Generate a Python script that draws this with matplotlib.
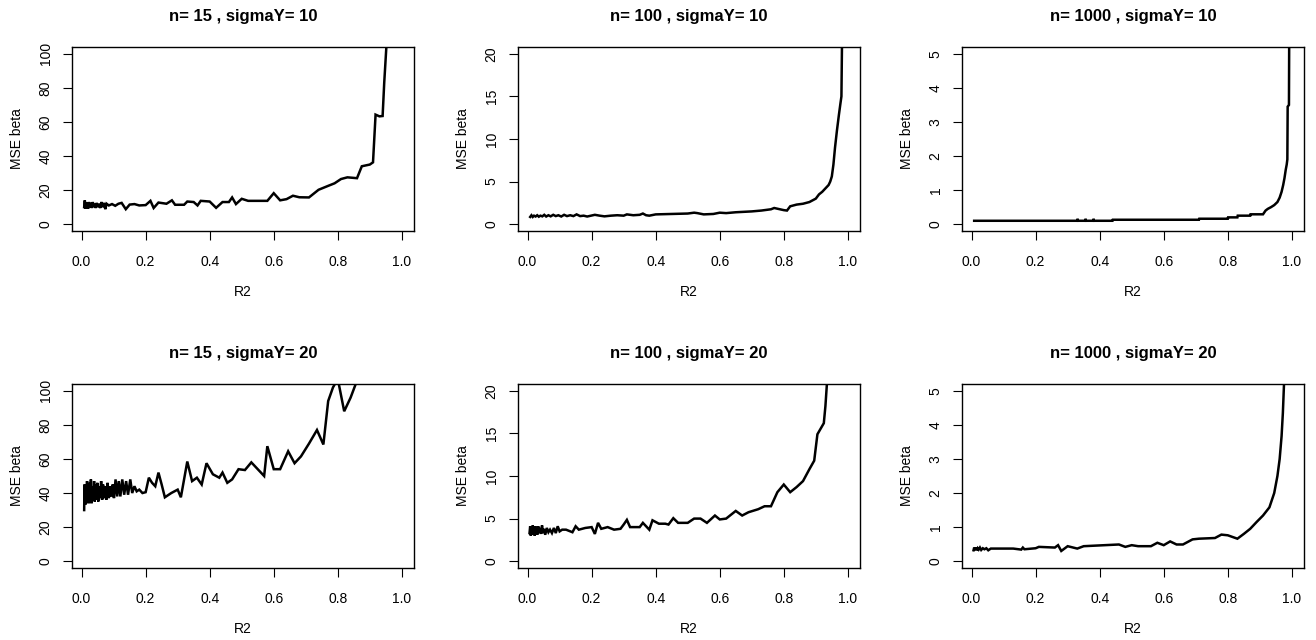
from __future__ import annotations

import matplotlib

matplotlib.use("Agg")

import matplotlib.pyplot as plt

plt.rcParams["font.family"] = ["Liberation Sans", "DejaVu Sans"]

# n = 15, sigmaY = 10
R2_N15_S10 = [
    0.008, 0.010, 0.012, 0.014, 0.016, 0.018, 0.020, 0.023, 0.026, 0.029,
    0.032, 0.035, 0.038, 0.041, 0.044, 0.047, 0.050, 0.054, 0.058, 0.062,
    0.066, 0.070, 0.074, 0.078, 0.085, 0.095, 0.105, 0.115, 0.125, 0.138,
    0.150, 0.165, 0.180, 0.200, 0.215, 0.225, 0.240, 0.265, 0.282, 0.292,
    0.320, 0.330, 0.350, 0.362, 0.372, 0.400, 0.420, 0.440, 0.460, 0.470,
    0.482, 0.500, 0.520, 0.580, 0.600, 0.620, 0.640, 0.660, 0.680, 0.710,
    0.740, 0.770, 0.790, 0.810, 0.830, 0.860, 0.875, 0.900, 0.910, 0.918,
    0.930, 0.940, 0.945, 0.952, 0.958,
]
MSE_N15_S10 = [
    10.0, 14.0, 9.0, 13.0, 9.5, 12.5, 9.0, 13.0, 10.0, 12.5,
    9.5, 13.0, 10.0, 12.0, 9.5, 12.5, 10.0, 12.0, 9.5, 13.0,
    10.0, 12.5, 8.8, 12.0, 11.0, 11.8, 10.8, 12.0, 12.5, 8.8,
    11.5, 11.8, 11.0, 11.2, 13.7, 9.5, 12.7, 12.0, 14.0, 11.4,
    11.4, 13.3, 13.0, 11.0, 13.7, 13.3, 9.6, 13.0, 13.0, 15.7,
    11.8, 14.9, 13.7, 13.7, 18.2, 14.0, 14.7, 16.7, 15.8, 15.7,
    20.2, 22.5, 24.0, 26.5, 27.5, 27.0, 34.0, 35.0, 36.3, 64.3,
    63.3, 63.5, 83.0, 105.0, 140.0,
]

# n = 100, sigmaY = 10
R2_N100_S10 = [
    0.008, 0.012, 0.016, 0.020, 0.025, 0.030, 0.035, 0.040, 0.046, 0.052,
    0.058, 0.065, 0.072, 0.080, 0.088, 0.096, 0.105, 0.114, 0.123, 0.133,
    0.143, 0.153, 0.164, 0.175, 0.186, 0.198, 0.210, 0.225, 0.240, 0.260,
    0.280, 0.300, 0.310, 0.330, 0.350, 0.360, 0.370, 0.380, 0.400, 0.450,
    0.500, 0.520, 0.530, 0.550, 0.580, 0.600, 0.620, 0.650, 0.700, 0.730,
    0.760, 0.770, 0.800, 0.810, 0.820, 0.840, 0.860, 0.880, 0.890, 0.900,
    0.910, 0.920, 0.930, 0.940, 0.945, 0.950, 0.955, 0.960, 0.966, 0.972,
    0.977, 0.980, 0.982, 0.984,
]
MSE_N100_S10 = [
    0.85, 1.05, 0.85, 1.00, 0.90, 1.05, 0.88, 1.00, 0.92, 1.10,
    0.90, 1.05, 0.92, 1.10, 0.95, 1.05, 0.90, 1.10, 0.95, 1.05,
    0.95, 1.15, 0.95, 1.00, 0.90, 1.00, 1.10, 1.00, 0.92, 1.00,
    1.05, 1.00, 1.15, 1.05, 1.10, 1.25, 1.05, 1.00, 1.15, 1.20,
    1.25, 1.35, 1.30, 1.15, 1.20, 1.35, 1.30, 1.40, 1.50, 1.60,
    1.75, 1.90, 1.65, 1.60, 2.10, 2.30, 2.40, 2.60, 2.80, 3.00,
    3.50, 3.80, 4.20, 4.60, 5.00, 5.60, 7.00, 9.00, 11.0, 12.8,
    14.2, 15.0, 22.0, 30.0,
]

# n = 1000, sigmaY = 10
R2_N1000_S10 = [
    0.008, 0.330, 0.331, 0.332, 0.355, 0.356, 0.357, 0.380, 0.381, 0.382,
    0.440, 0.441, 0.710, 0.711, 0.800, 0.801, 0.830, 0.831, 0.870, 0.871,
    0.910, 0.918, 0.925, 0.935, 0.945, 0.955, 0.962, 0.968, 0.973, 0.977,
    0.981, 0.984, 0.986, 0.987, 0.991, 0.992,
]
MSE_N1000_S10 = [
    0.10, 0.10, 0.16, 0.10, 0.10, 0.16, 0.10, 0.10, 0.16, 0.10,
    0.10, 0.13, 0.13, 0.16, 0.16, 0.20, 0.20, 0.25, 0.25, 0.29,
    0.29, 0.40, 0.45, 0.50, 0.56, 0.65, 0.78, 0.95, 1.15, 1.35,
    1.60, 1.75, 1.90, 3.45, 3.50, 6.00,
]

# n = 15, sigmaY = 20
R2_N15_S20 = [
    0.008, 0.009, 0.011, 0.013, 0.015, 0.017, 0.019, 0.021, 0.023, 0.025,
    0.027, 0.029, 0.031, 0.034, 0.036, 0.039, 0.041, 0.044, 0.046, 0.049,
    0.052, 0.055, 0.058, 0.061, 0.064, 0.067, 0.070, 0.073, 0.077, 0.081,
    0.085, 0.089, 0.093, 0.097, 0.101, 0.106, 0.111, 0.116, 0.121, 0.127,
    0.133, 0.139, 0.145, 0.152, 0.158, 0.165, 0.172, 0.180, 0.190, 0.200,
    0.210, 0.220, 0.230, 0.240, 0.250, 0.260, 0.280, 0.300, 0.310, 0.330,
    0.345, 0.360, 0.375, 0.390, 0.410, 0.430, 0.440, 0.455, 0.470, 0.490,
    0.510, 0.530, 0.555, 0.570, 0.580, 0.600, 0.620, 0.645, 0.665, 0.685,
    0.710, 0.735, 0.755, 0.770, 0.785, 0.800, 0.820, 0.840, 0.860, 0.870,
]
MSE_N15_S20 = [
    30, 45, 33, 44, 34, 47, 35, 43, 34, 46,
    35, 48, 34, 44, 36, 47, 35, 45, 36, 46,
    35, 44, 37, 47, 36, 45, 37, 44, 36, 46,
    37, 44, 38, 45, 37, 48, 38, 47, 38, 48,
    39, 47, 39, 48, 40, 44, 41, 42, 40, 40.5,
    49, 46, 44, 52, 45, 37.5, 40, 42, 37.5, 58.5,
    47, 49, 45, 57.5, 51, 49, 52, 46, 48, 54,
    53.5, 58, 53, 50, 67.5, 54, 54, 64.5, 57.5, 61.5,
    69, 77, 68.5, 94, 102, 107, 88, 96, 106, 115,
]

# n = 100, sigmaY = 20
R2_N100_S20 = [
    0.006, 0.008, 0.010, 0.012, 0.014, 0.016, 0.018, 0.020, 0.022, 0.024,
    0.026, 0.028, 0.030, 0.033, 0.036, 0.039, 0.042, 0.045, 0.048, 0.051,
    0.055, 0.060, 0.065, 0.070, 0.076, 0.082, 0.088, 0.094, 0.100, 0.108,
    0.120, 0.140, 0.150, 0.160, 0.180, 0.200, 0.210, 0.220, 0.230, 0.250,
    0.270, 0.290, 0.300, 0.310, 0.320, 0.350, 0.360, 0.380, 0.390, 0.410,
    0.430, 0.440, 0.455, 0.470, 0.500, 0.520, 0.540, 0.560, 0.585, 0.600,
    0.620, 0.650, 0.670, 0.690, 0.720, 0.740, 0.760, 0.780, 0.800, 0.820,
    0.840, 0.860, 0.880, 0.895, 0.905, 0.925, 0.930, 0.935, 0.940,
]
MSE_N100_S20 = [
    3.3, 4.1, 3.0, 4.0, 3.1, 4.2, 3.2, 3.9, 3.0, 4.1,
    3.2, 4.0, 3.1, 4.1, 3.3, 3.9, 3.2, 4.2, 3.3, 3.8,
    3.1, 3.9, 3.4, 3.7, 3.3, 3.9, 3.3, 4.1, 3.5, 3.7,
    3.7, 3.4, 4.1, 3.7, 3.9, 4.0, 3.2, 4.5, 3.8, 4.0,
    3.7, 3.8, 4.3, 4.85, 4.0, 4.0, 4.5, 3.7, 4.8, 4.4,
    4.4, 4.3, 5.05, 4.5, 4.5, 5.0, 5.0, 4.5, 5.36, 4.9,
    5.0, 5.9, 5.36, 5.75, 6.1, 6.45, 6.45, 8.1, 9.0, 8.1,
    8.7, 9.4, 10.8, 11.8, 14.9, 16.2, 18.2, 21.0, 25.0,
]

# n = 1000, sigmaY = 20
R2_N1000_S20 = [
    0.006, 0.008, 0.010, 0.013, 0.016, 0.019, 0.022, 0.026, 0.030, 0.035,
    0.040, 0.046, 0.052, 0.060, 0.080, 0.100, 0.130, 0.155, 0.160, 0.165,
    0.200, 0.210, 0.260, 0.270, 0.280, 0.300, 0.330, 0.350, 0.460, 0.480,
    0.500, 0.520, 0.560, 0.580, 0.600, 0.620, 0.640, 0.660, 0.690, 0.710,
    0.760, 0.780, 0.800, 0.830, 0.850, 0.870, 0.890, 0.910, 0.930, 0.945,
    0.955, 0.962, 0.968, 0.972, 0.976,
]
MSE_N1000_S20 = [
    0.32, 0.40, 0.33, 0.40, 0.32, 0.38, 0.34, 0.40, 0.33, 0.38,
    0.35, 0.38, 0.32, 0.37, 0.37, 0.37, 0.37, 0.34, 0.40, 0.35,
    0.38, 0.42, 0.40, 0.47, 0.30, 0.44, 0.37, 0.44, 0.49, 0.42,
    0.47, 0.44, 0.44, 0.54, 0.47, 0.58, 0.49, 0.49, 0.64, 0.66,
    0.68, 0.78, 0.76, 0.66, 0.80, 0.95, 1.15, 1.34, 1.58, 2.00,
    2.50, 3.00, 3.67, 4.35, 5.30,
]

SAMPLE_SIZES = [15, 100, 1000]
SIGMAS = [10, 20]
Y_MAX = [100, 20, 5]
Y_STEP = [20, 5, 1]
X_TICKS = [0.0, 0.2, 0.4, 0.6, 0.8, 1.0]

SERIES = {
    (15, 10): (R2_N15_S10, MSE_N15_S10),
    (100, 10): (R2_N100_S10, MSE_N100_S10),
    (1000, 10): (R2_N1000_S10, MSE_N1000_S10),
    (15, 20): (R2_N15_S20, MSE_N15_S20),
    (100, 20): (R2_N100_S20, MSE_N100_S20),
    (1000, 20): (R2_N1000_S20, MSE_N1000_S20),
}

W, H = 1316, 640
COL_LEFT = [72, 518, 962]
ROW_TOP = [47, 384]
BOX_W, BOX_H = 342, 184


def draw_panel(axis, r2, mse, n, sigma, ymax, ystep):
    axis.plot(r2, mse, color="black", linewidth=1.8, solid_joinstyle="miter")
    axis.set_xlim(-0.03, 1.038)
    axis.set_ylim(-0.04 * ymax, 1.04 * ymax)
    axis.set_xticks(X_TICKS)
    axis.set_xticklabels([f"{t:.1f}" for t in X_TICKS])
    yticks = list(range(0, ymax + 1, ystep))
    axis.set_yticks(yticks)
    axis.set_yticklabels([str(t) for t in yticks], rotation=90, va="center")
    axis.tick_params(direction="out", length=6.5, width=0.8, labelsize=10)
    axis.tick_params(axis="x", pad=11)
    axis.tick_params(axis="y", pad=7.5)
    for spine in axis.spines.values():
        spine.set_linewidth(1.0)
    axis.set_title(f"n= {n} , sigmaY= {sigma}", fontsize=12, fontweight="bold", pad=19)
    axis.set_xlabel("R2", fontsize=10, labelpad=11.5)
    axis.set_ylabel("MSE beta", fontsize=10, labelpad=10.5)


fig = plt.figure(figsize=(W / 100, H / 100), dpi=100)
for row, sigma in enumerate(SIGMAS):
    for col, n in enumerate(SAMPLE_SIZES):
        left = COL_LEFT[col] / W
        bottom = (H - ROW_TOP[row] - BOX_H) / H
        axis = fig.add_axes([left, bottom, BOX_W / W, BOX_H / H])
        r2, mse = SERIES[(n, sigma)]
        draw_panel(axis, r2, mse, n, sigma, Y_MAX[col], Y_STEP[col])

plt.savefig("out.png", dpi=100)
plt.close(fig)
